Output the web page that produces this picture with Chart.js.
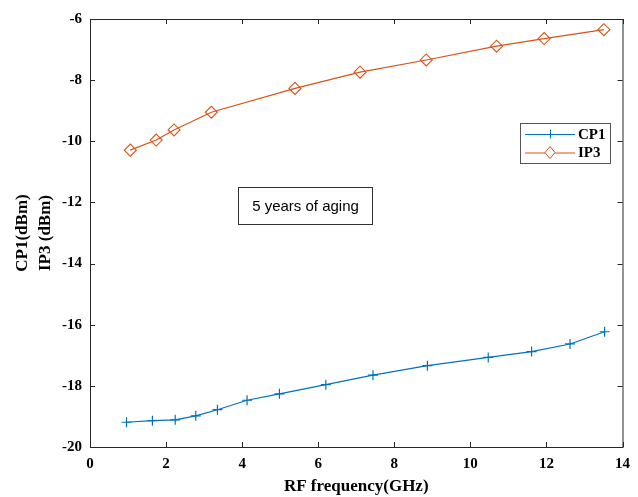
<!DOCTYPE html>
<html>
<head>
<meta charset="utf-8">
<script src="https://cdn.jsdelivr.net/npm/chart.js@4/dist/chart.umd.min.js"></script>
<style>
  html, body { margin: 0; padding: 0; background: #fff; }
  #wrap { width: 638px; height: 497px; }
</style>
</head>
<body>
<div id="wrap"><canvas id="c" width="638" height="497"></canvas></div>
<script>
// values
const cp1Freq = [0.96, 1.64, 2.24, 2.78, 3.35, 4.13, 4.98, 6.20, 7.44, 8.87, 10.47, 11.61, 12.62, 13.53];
const cp1Val  = [-19.19, -19.14, -19.11, -18.98, -18.78, -18.47, -18.26, -17.96, -17.65, -17.34, -17.07, -16.88, -16.63, -16.23];
const ip3Freq = [1.06, 1.74, 2.21, 3.19, 5.39, 7.10, 8.84, 10.69, 11.94, 13.51];
const ip3Val  = [-10.29, -9.96, -9.63, -9.05, -8.27, -7.74, -7.34, -6.89, -6.64, -6.35];
const xTicks = [0, 2, 4, 6, 8, 10, 12, 14];
const yTicks = [-20, -18, -16, -14, -12, -10, -8, -6];
const note = '5 years of aging';

const BLUE = '#0072BD';
const ORANGE = '#D95319';
const SERIF = '"Liberation Serif", "Times New Roman", serif';
const SANS = '"Liberation Sans", Arial, sans-serif';

const toPts = (xs, ys) => xs.map((x, i) => ({ x, y: ys[i] }));

// ─── BOX, INWARD TICKS, NOTE, LEGEND ──────────────────────────
const matlabAxes = {
  id: 'matlabAxes',
  afterDatasetsDraw(chart) {
    const { ctx, chartArea: a, scales } = chart;
    ctx.save();
    ctx.strokeStyle = '#262626';
    ctx.lineWidth = 1;
    ctx.strokeRect(a.left + 0.5, a.top + 0.5, a.right - a.left, a.bottom - a.top);
    ctx.beginPath();
    xTicks.forEach(v => {
      const px = Math.round(scales.x.getPixelForValue(v)) + 0.5;
      ctx.moveTo(px, a.bottom); ctx.lineTo(px, a.bottom - 5);
      ctx.moveTo(px, a.top); ctx.lineTo(px, a.top + 5);
    });
    yTicks.forEach(v => {
      const py = Math.round(scales.y.getPixelForValue(v)) + 0.5;
      ctx.moveTo(a.left, py); ctx.lineTo(a.left + 5, py);
      ctx.moveTo(a.right, py); ctx.lineTo(a.right - 5, py);
    });
    ctx.stroke();

    // annotation box
    ctx.fillStyle = '#fff';
    ctx.fillRect(238, 187, 135, 38);
    ctx.strokeStyle = '#333';
    ctx.strokeRect(238.5, 187.5, 134, 37);
    ctx.fillStyle = '#000';
    ctx.font = '15px ' + SANS;
    ctx.textBaseline = 'middle';
    ctx.textAlign = 'center';
    ctx.fillText(note, 305.5, 207);

    // legend box
    ctx.fillStyle = '#fff';
    ctx.fillRect(520, 123, 91, 41);
    ctx.strokeStyle = '#555';
    ctx.strokeRect(520.5, 123.5, 90, 40);
    const rows = [
      { label: 'CP1', color: BLUE, y: 134 },
      { label: 'IP3', color: ORANGE, y: 152.5 },
    ];
    rows.forEach((r, i) => {
      ctx.strokeStyle = r.color;
      ctx.beginPath();
      ctx.moveTo(525, r.y + 0.5); ctx.lineTo(575, r.y + 0.5);
      ctx.stroke();
      ctx.beginPath();
      if (i === 0) {
        ctx.moveTo(550.5, r.y - 4.5); ctx.lineTo(550.5, r.y + 4.5);
      } else {
        ctx.moveTo(550, r.y - 6); ctx.lineTo(555, r.y); ctx.lineTo(550, r.y + 6);
        ctx.lineTo(545, r.y); ctx.closePath();
        ctx.fillStyle = '#fff'; ctx.fill();
      }
      ctx.stroke();
      ctx.fillStyle = '#000';
      ctx.font = 'bold 15px ' + SERIF;
      ctx.textAlign = 'left';
      ctx.fillText(r.label, 578, r.y + 1);
    });
    ctx.restore();
  }
};

new Chart(document.getElementById('c'), {
  type: 'scatter',
  data: {
    datasets: [
      {
        label: 'CP1',
        data: toPts(cp1Freq, cp1Val),
        showLine: true,
        borderColor: BLUE,
        borderWidth: 1.2,
        pointStyle: 'cross',
        pointRadius: 5,
        pointBorderColor: BLUE,
        pointBorderWidth: 1.2,
        tension: 0,
      },
      {
        label: 'IP3',
        data: toPts(ip3Freq, ip3Val),
        showLine: true,
        borderColor: ORANGE,
        borderWidth: 1.2,
        pointStyle: 'rectRot',
        pointRadius: 6,
        pointBackgroundColor: 'rgba(255,255,255,0)',
        pointBorderColor: ORANGE,
        pointBorderWidth: 1.1,
        tension: 0,
      },
    ],
  },
  options: {
    responsive: false,
    animation: false,
    devicePixelRatio: 1,
    layout: { padding: { top: 19, right: 7, left: 0, bottom: 0 } },
    plugins: { legend: { display: false }, tooltip: { enabled: false } },
    scales: {
      x: {
        type: 'linear',
        min: 0, max: 14,
        afterBuildTicks: s => { s.ticks = xTicks.map(v => ({ value: v })); },
        afterFit: s => { s.height = 50; },
        grid: { display: false, drawTicks: false },
        border: { display: false },
        ticks: { color: '#000', padding: 8, font: { family: SERIF, size: 15, weight: 'bold' } },
        title: {
          display: true, text: 'RF frequency(GHz)', color: '#000',
          font: { family: SERIF, size: 17, weight: 'bold' }, padding: { top: 2, bottom: 0 },
        },
      },
      y: {
        type: 'linear',
        min: -20, max: -6,
        afterBuildTicks: s => { s.ticks = yTicks.map(v => ({ value: v })); },
        afterFit: s => { s.width = 90; },
        grid: { display: false, drawTicks: false },
        border: { display: false },
        ticks: { color: '#000', padding: 8, font: { family: SERIF, size: 15, weight: 'bold' } },
        title: {
          display: true, text: ['CP1(dBm)', 'IP3 (dBm)'], color: '#000',
          font: { family: SERIF, size: 17, weight: 'bold', lineHeight: 1.3 }, padding: { top: 12, bottom: 0 },
        },
      },
    },
  },
  plugins: [matlabAxes],
});
</script>
</body>
</html>
